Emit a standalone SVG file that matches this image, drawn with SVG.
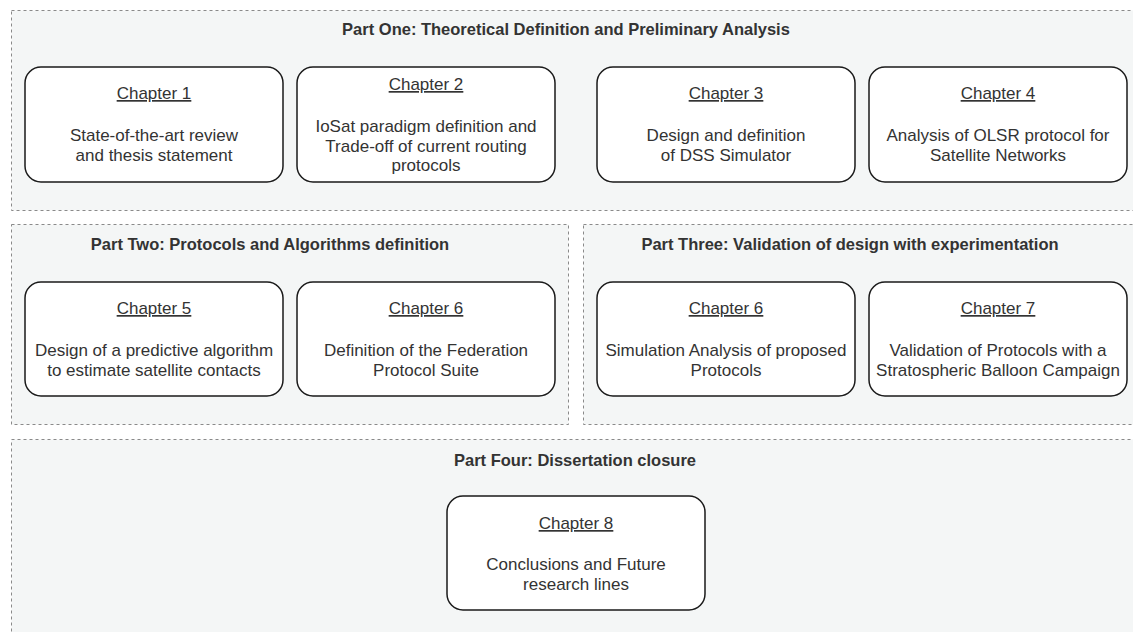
<svg xmlns="http://www.w3.org/2000/svg" width="1133" height="632" viewBox="0 0 1133 632">
  <style>
    .part { fill: #f4f6f6; stroke: #8a8a8a; stroke-width: 1; stroke-dasharray: 3 3; }
    .part-title { font-family: "Liberation Sans", Arial, sans-serif; font-size: 16.5px; font-weight: bold; fill: #333333; text-anchor: middle; }
    .chapter { fill: #ffffff; stroke: #1a1a1a; stroke-width: 1.5; }
    .ch-title { font-family: "Liberation Sans", Arial, sans-serif; font-size: 17px; fill: #333333; text-anchor: middle; text-decoration: underline; }
    .ch-body { font-family: "Liberation Sans", Arial, sans-serif; font-size: 17px; fill: #333333; text-anchor: middle; }
  </style>
  <rect width="1133" height="632" fill="#ffffff"/>

  <!-- Part containers -->
  <g id="part-one">
    <rect class="part" x="11.5" y="10.5" width="1140" height="200"/>
    <text class="part-title" x="566" y="35">Part One: Theoretical Definition and Preliminary Analysis</text>
  </g>
  <g id="part-two">
    <rect class="part" x="11.5" y="224.5" width="557" height="200"/>
    <text class="part-title" x="270" y="250">Part Two: Protocols and Algorithms definition</text>
  </g>
  <g id="part-three">
    <rect class="part" x="583.5" y="224.5" width="570" height="200"/>
    <text class="part-title" x="850" y="250">Part Three: Validation of design with experimentation</text>
  </g>
  <g id="part-four">
    <rect class="part" x="11.5" y="439.5" width="1140" height="210"/>
    <text class="part-title" x="575" y="466">Part Four: Dissertation closure</text>
  </g>

  <!-- Chapters -->
  <g id="chapter-1">
    <rect class="chapter" x="25" y="67" width="258" height="115" rx="16"/>
    <text class="ch-title" x="154" y="99">Chapter 1</text>
    <text class="ch-body" x="154" y="141">State-of-the-art review</text>
    <text class="ch-body" x="154" y="161">and thesis statement</text>
  </g>
  <g id="chapter-2">
    <rect class="chapter" x="297" y="67" width="258" height="115" rx="16"/>
    <text class="ch-title" x="426" y="90">Chapter 2</text>
    <text class="ch-body" x="426" y="132">IoSat paradigm definition and</text>
    <text class="ch-body" x="426" y="152">Trade-off of current routing</text>
    <text class="ch-body" x="426" y="171">protocols</text>
  </g>
  <g id="chapter-3">
    <rect class="chapter" x="597" y="67" width="258" height="115" rx="16"/>
    <text class="ch-title" x="726" y="99">Chapter 3</text>
    <text class="ch-body" x="726" y="141">Design and definition</text>
    <text class="ch-body" x="726" y="161">of DSS Simulator</text>
  </g>
  <g id="chapter-4">
    <rect class="chapter" x="869" y="67" width="258" height="115" rx="16"/>
    <text class="ch-title" x="998" y="99">Chapter 4</text>
    <text class="ch-body" x="998" y="141">Analysis of OLSR protocol for</text>
    <text class="ch-body" x="998" y="161">Satellite Networks</text>
  </g>
  <g id="chapter-5">
    <rect class="chapter" x="25" y="282" width="258" height="114" rx="16"/>
    <text class="ch-title" x="154" y="314">Chapter 5</text>
    <text class="ch-body" x="154" y="356">Design of a predictive algorithm</text>
    <text class="ch-body" x="154" y="376">to estimate satellite contacts</text>
  </g>
  <g id="chapter-6-protocols">
    <rect class="chapter" x="297" y="282" width="258" height="114" rx="16"/>
    <text class="ch-title" x="426" y="314">Chapter 6</text>
    <text class="ch-body" x="426" y="356">Definition of the Federation</text>
    <text class="ch-body" x="426" y="376">Protocol Suite</text>
  </g>
  <g id="chapter-6-simulation">
    <rect class="chapter" x="597" y="282" width="258" height="114" rx="16"/>
    <text class="ch-title" x="726" y="314">Chapter 6</text>
    <text class="ch-body" x="726" y="356">Simulation Analysis of proposed</text>
    <text class="ch-body" x="726" y="376">Protocols</text>
  </g>
  <g id="chapter-7">
    <rect class="chapter" x="869" y="282" width="258" height="114" rx="16"/>
    <text class="ch-title" x="998" y="314">Chapter 7</text>
    <text class="ch-body" x="998" y="356">Validation of Protocols with a</text>
    <text class="ch-body" x="998" y="376">Stratospheric Balloon Campaign</text>
  </g>
  <g id="chapter-8">
    <rect class="chapter" x="447" y="496" width="258" height="114" rx="16"/>
    <text class="ch-title" x="576" y="529">Chapter 8</text>
    <text class="ch-body" x="576" y="570">Conclusions and Future</text>
    <text class="ch-body" x="576" y="590">research lines</text>
  </g>

  <!-- No connectors in this layout -->
  <g id="connectors"/>
</svg>
